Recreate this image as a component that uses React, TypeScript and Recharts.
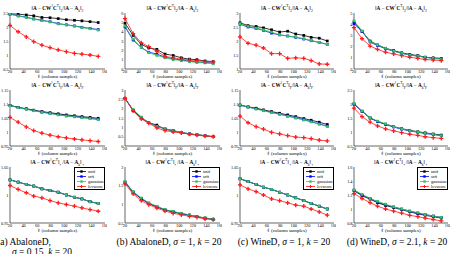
import React from 'react';
import { LineChart, Line, XAxis, YAxis, Legend } from 'recharts';

// ℓ values (number of sampled columns)
const samples = [20, 32, 44, 55, 67, 79, 91, 103, 115, 126, 138, 150];
const xTicks = [20, 40, 60, 80, 100, 120, 140, 160];

const methods = ['unif', 'srft', 'gaussian', 'levscore'] as const;
const methodColors = ['#000000', '#0000ff', '#33c65c', '#ff1a1a'];

// AbaloneD, sigma = 0.15 — spectral / Frobenius / trace norm ratios
const abaloneNarrowSpectral = {
  unif: [2.47, 2.46, 2.43, 2.4, 2.34, 2.33, 2.3, 2.26, 2.24, 2.22, 2.19, 2.16],
  srft: [2.46, 2.4, 2.35, 2.29, 2.24, 2.19, 2.12, 2.08, 2.04, 1.99, 1.95, 1.91],
  gaussian: [2.46, 2.39, 2.34, 2.28, 2.23, 2.18, 2.11, 2.07, 2.03, 1.98, 1.94, 1.89],
  levscore: [2.06, 1.83, 1.65, 1.48, 1.35, 1.26, 1.18, 1.12, 1.06, 1.03, 1.0, 0.95],
};
const abaloneNarrowFrobenius = {
  unif: [1.095, 1.088, 1.083, 1.078, 1.073, 1.069, 1.065, 1.061, 1.058, 1.055, 1.052, 1.049],
  srft: [1.095, 1.088, 1.082, 1.077, 1.071, 1.067, 1.062, 1.058, 1.055, 1.052, 1.049, 1.045],
  gaussian: [1.094, 1.087, 1.081, 1.076, 1.07, 1.066, 1.061, 1.057, 1.054, 1.051, 1.048, 1.044],
  levscore: [1.052, 1.035, 1.018, 1.005, 0.996, 0.989, 0.983, 0.979, 0.975, 0.972, 0.969, 0.966],
};
const abaloneNarrowTrace = {
  unif: [1.027, 1.023, 1.019, 1.016, 1.011, 1.008, 1.005, 1.0, 0.996, 0.993, 0.988, 0.985],
  srft: [1.027, 1.023, 1.019, 1.016, 1.011, 1.008, 1.005, 1.0, 0.996, 0.993, 0.988, 0.985],
  gaussian: [1.027, 1.023, 1.019, 1.016, 1.011, 1.008, 1.005, 1.0, 0.996, 0.993, 0.988, 0.985],
  levscore: [1.017, 1.01, 1.004, 0.998, 0.995, 0.99, 0.986, 0.983, 0.98, 0.977, 0.974, 0.971],
};

// AbaloneD, sigma = 1
const abaloneWideSpectral = {
  unif: [4.9, 3.6, 2.65, 2.25, 2.1, 1.6, 1.45, 1.2, 1.05, 1.0, 0.85, 0.8],
  srft: [4.5, 3.1, 2.3, 1.8, 1.6, 1.25, 1.1, 0.95, 0.85, 0.75, 0.7, 0.62],
  gaussian: [4.6, 3.2, 2.3, 1.75, 1.45, 1.2, 1.0, 0.9, 0.8, 0.7, 0.65, 0.55],
  levscore: [5.4, 3.8, 2.8, 2.4, 1.9, 1.35, 1.2, 1.05, 0.95, 0.9, 0.8, 0.75],
};
const abaloneWideFrobenius = {
  unif: [2.55, 1.9, 1.5, 1.25, 1.12, 0.9, 0.82, 0.72, 0.65, 0.6, 0.55, 0.5],
  srft: [2.55, 1.92, 1.52, 1.25, 1.05, 0.92, 0.82, 0.72, 0.65, 0.6, 0.55, 0.5],
  gaussian: [2.55, 1.95, 1.55, 1.25, 1.05, 0.92, 0.82, 0.72, 0.65, 0.6, 0.55, 0.5],
  levscore: [2.55, 1.88, 1.45, 1.22, 0.97, 0.82, 0.75, 0.7, 0.63, 0.58, 0.53, 0.5],
};
const abaloneWideTrace = {
  unif: [1.59, 1.32, 1.15, 1.02, 0.93, 0.85, 0.8, 0.75, 0.71, 0.67, 0.63, 0.6],
  srft: [1.6, 1.33, 1.16, 1.03, 0.94, 0.85, 0.8, 0.75, 0.71, 0.67, 0.63, 0.6],
  gaussian: [1.61, 1.34, 1.17, 1.04, 0.95, 0.86, 0.81, 0.76, 0.72, 0.67, 0.64, 0.6],
  levscore: [1.55, 1.28, 1.1, 0.99, 0.9, 0.82, 0.76, 0.72, 0.68, 0.65, 0.61, 0.59],
};

// WineD, sigma = 1
const wineNarrowSpectral = {
  unif: [2.65, 2.55, 2.52, 2.47, 2.4, 2.32, 2.35, 2.25, 2.2, 2.13, 2.1, 2.0],
  srft: [2.6, 2.5, 2.45, 2.38, 2.28, 2.22, 2.18, 2.13, 2.07, 2.01, 1.95, 1.88],
  gaussian: [2.62, 2.52, 2.46, 2.4, 2.32, 2.22, 2.18, 2.14, 2.08, 2.02, 1.95, 1.88],
  levscore: [2.15, 1.92, 1.85, 1.75, 1.55, 1.55, 1.38, 1.4, 1.38, 1.3, 1.18, 1.17],
};
const wineNarrowFrobenius = {
  unif: [1.096, 1.09, 1.085, 1.079, 1.073, 1.067, 1.061, 1.055, 1.048, 1.042, 1.035, 1.027],
  srft: [1.096, 1.089, 1.083, 1.077, 1.07, 1.064, 1.057, 1.051, 1.044, 1.037, 1.029, 1.021],
  gaussian: [1.096, 1.089, 1.082, 1.076, 1.069, 1.063, 1.056, 1.05, 1.043, 1.036, 1.028, 1.019],
  levscore: [1.057, 1.033, 1.019, 1.01, 0.999, 0.993, 0.987, 0.982, 0.98, 0.976, 0.971, 0.968],
};
const wineNarrowTrace = {
  unif: [1.029, 1.024, 1.019, 1.014, 1.01, 1.005, 1.0, 0.995, 0.99, 0.985, 0.98, 0.975],
  srft: [1.029, 1.024, 1.019, 1.014, 1.01, 1.005, 1.0, 0.995, 0.99, 0.985, 0.98, 0.975],
  gaussian: [1.029, 1.024, 1.019, 1.014, 1.01, 1.005, 1.0, 0.995, 0.99, 0.985, 0.98, 0.975],
  levscore: [1.018, 1.011, 1.006, 1.0, 0.993, 0.99, 0.986, 0.982, 0.98, 0.975, 0.97, 0.964],
};

// WineD, sigma = 2.1
const wineWideSpectral = {
  unif: [4.2, 3.35, 2.5, 2.15, 1.85, 1.65, 1.45, 1.3, 1.2, 1.05, 1.0, 0.95],
  srft: [4.05, 3.35, 2.4, 2.1, 1.8, 1.6, 1.4, 1.25, 1.15, 1.05, 0.95, 0.9],
  gaussian: [4.3, 3.4, 2.45, 2.15, 1.85, 1.6, 1.4, 1.25, 1.15, 1.05, 0.95, 0.9],
  levscore: [3.7, 2.7, 2.05, 1.75, 1.5, 1.35, 1.2, 1.05, 0.95, 0.85, 0.8, 0.75],
};
const wineWideFrobenius = {
  unif: [2.0, 1.74, 1.5, 1.38, 1.28, 1.19, 1.12, 1.06, 1.01, 0.97, 0.93, 0.89],
  srft: [2.0, 1.74, 1.5, 1.37, 1.27, 1.18, 1.1, 1.04, 0.99, 0.95, 0.91, 0.87],
  gaussian: [2.02, 1.75, 1.51, 1.39, 1.29, 1.19, 1.11, 1.05, 1.0, 0.95, 0.92, 0.87],
  levscore: [1.85, 1.55, 1.35, 1.22, 1.11, 1.04, 0.98, 0.92, 0.88, 0.83, 0.8, 0.77],
};
const wineWideTrace = {
  unif: [1.26, 1.19, 1.14, 1.09, 1.05, 1.02, 0.99, 0.96, 0.93, 0.91, 0.89, 0.87],
  srft: [1.27, 1.2, 1.15, 1.1, 1.06, 1.03, 1.0, 0.97, 0.94, 0.92, 0.9, 0.88],
  gaussian: [1.27, 1.21, 1.15, 1.11, 1.07, 1.03, 1.0, 0.97, 0.95, 0.92, 0.9, 0.88],
  levscore: [1.22, 1.15, 1.09, 1.04, 1.0, 0.97, 0.94, 0.91, 0.89, 0.87, 0.85, 0.83],
};

// y-axis ticks per panel
const ticksAbNarrowSpec = [0.5, 1, 1.5, 2, 2.5];
const ticksAbWideSpec = [0, 1, 2, 3, 4, 5, 6];
const ticksWnNarrowSpec = [1, 1.5, 2, 2.5, 3];
const ticksWnWideSpec = [0, 1, 2, 3, 4, 5];
const ticksNarrowFro = [0.95, 1, 1.05, 1.1, 1.15];
const ticksAbWideFro = [0, 0.5, 1, 1.5, 2, 2.5, 3];
const ticksWnWideFro = [0.5, 1, 1.5, 2, 2.5];
const ticksNarrowTrace = [0.95, 1, 1.05];
const ticksAbWideTrace = [0.5, 1, 1.5, 2];
const ticksWnWideTrace = [0.8, 1, 1.2, 1.4, 1.6];

const captions = ['AbaloneD', 'AbaloneD', 'WineD', 'WineD'];

type Series = { unif: number[]; srft: number[]; gaussian: number[]; levscore: number[] };

const FONT = '"Liberation Serif", "DejaVu Serif", serif';
const colLeft = [10, 125, 240, 354];
const colWidth = [95, 95, 94, 94];
const rowTop = [13, 90, 167];
const PLOT_H = 56;
const YW = 14;
const MT = 2;
const MR = 2;
const XH = 10;

const makeDot = (method: string, color: string) => (props: any) => {
  const { cx, cy, index } = props;
  if (cx == null || cy == null) return <g key={`d${index}`} />;
  if (method === 'levscore') {
    return (
      <path
        key={`d${index}`}
        d={`M${cx - 2.1},${cy}H${cx + 2.1}M${cx},${cy - 2.1}V${cy + 2.1}`}
        stroke={color}
        strokeWidth={1.3}
      />
    );
  }
  return <rect key={`d${index}`} x={cx - 1.35} y={cy - 1.35} width={2.7} height={2.7} fill={color} />;
};

function NormTitle({ norm }: { norm: string }) {
  const sub = <sub style={{ fontSize: '0.7em' }}>{norm}</sub>;
  return (
    <span>
      ‖<b>A</b> − <b>CW</b>
      <sup style={{ fontSize: '0.7em' }}>†</sup>
      <b>C</b>
      <sup style={{ fontSize: '0.7em' }}>T</sup>‖{sub}/‖<b>A</b> − <b>A</b>
      <sub style={{ fontSize: '0.7em' }}>k</sub>‖{sub}
    </span>
  );
}

function LegendBox(props: any) {
  const payload: any[] = props.payload || [];
  // keep the plotting order: unif, srft, gaussian, levscore
  const ordered = methods
    .map((m) => payload.find((p) => p.value === m))
    .filter(Boolean) as any[];
  return (
    <div
      style={{
        border: '0.6px solid #000',
        background: '#fff',
        width: 31,
        padding: '0.5px 0',
        fontSize: 4.5,
        lineHeight: '5px',
        fontFamily: FONT,
        boxSizing: 'border-box',
      }}
    >
      {ordered.map((p: any) => (
        <div key={p.value} style={{ display: 'flex', alignItems: 'center', height: 5 }}>
          <svg width={13} height={5} style={{ display: 'block' }}>
            <line x1={2} x2={11} y1={2.5} y2={2.5} stroke={p.color} strokeWidth={0.8} />
            {p.value === 'levscore' ? (
              <path d="M4.9,2.5H8.1M6.5,0.9V4.1" stroke={p.color} strokeWidth={1.1} />
            ) : (
              <rect x={5.3} y={1.3} width={2.4} height={2.4} fill={p.color} />
            )}
          </svg>
          <span>{p.value}</span>
        </div>
      ))}
    </div>
  );
}

const norms = ['2', 'F', '⋆'];

function Panel({
  col,
  row,
  series,
  ticks,
}: {
  col: number;
  row: number;
  series: Series;
  ticks: number[];
}) {
  const plotLeft = colLeft[col];
  const plotTop = rowTop[row];
  const plotW = colWidth[col];
  const domain = [ticks[0], ticks[ticks.length - 1]];
  const data = samples.map((l, i) => ({
    l,
    unif: series.unif[i],
    srft: series.srft[i],
    gaussian: series.gaussian[i],
    levscore: series.levscore[i],
  }));
  const tickStyle = { fontSize: 4.3, fill: '#000', fontFamily: FONT };
  return (
    <>
      <div
        style={{
          position: 'absolute',
          left: plotLeft + plotW / 2,
          top: plotTop - 10,
          transform: 'translateX(-50%)',
          whiteSpace: 'nowrap',
          fontSize: 5.2,
          lineHeight: '6px',
          fontFamily: FONT,
        }}
      >
        <NormTitle norm={norms[row]} />
      </div>
      <div style={{ position: 'absolute', left: plotLeft - YW, top: plotTop - MT }}>
        <LineChart
          width={YW + plotW + MR}
          height={MT + PLOT_H + XH}
          data={data}
          margin={{ top: MT, right: MR, left: 0, bottom: 0 }}
        >
          <XAxis
            dataKey="l"
            type="number"
            domain={[20, 160]}
            ticks={xTicks}
            height={XH}
            tick={tickStyle}
            tickLine={false}
            tickSize={1.2}
            tickMargin={0}
            stroke="#000"
            strokeWidth={0.6}
            interval={0}
            label={{
              value: 'ℓ (column samples)',
              position: 'insideBottom',
              offset: 1,
              fontSize: 5,
              fill: '#000',
              fontFamily: FONT,
            }}
          />
          <XAxis
            xAxisId="top"
            orientation="top"
            type="number"
            domain={[20, 160]}
            ticks={xTicks}
            height={0}
            tick={false}
            tickLine={false}
            stroke="#000"
            strokeWidth={0.6}
          />
          <YAxis
            type="number"
            domain={domain}
            ticks={ticks}
            width={YW}
            tick={tickStyle}
            tickLine={false}
            tickSize={1}
            tickMargin={0.5}
            interval={0}
            stroke="#000"
            strokeWidth={0.6}
            allowDataOverflow
          />
          <YAxis
            yAxisId="right"
            orientation="right"
            type="number"
            domain={domain}
            ticks={ticks}
            width={0}
            tick={false}
            tickLine={false}
            stroke="#000"
            strokeWidth={0.6}
          />
          {methods.map((m, i) => (
            <Line
              key={m}
              dataKey={m}
              name={m}
              stroke={methodColors[i]}
              strokeWidth={0.8}
              dot={makeDot(m, methodColors[i])}
              activeDot={false}
              isAnimationActive={false}
            />
          ))}
          {row === 2 && (
            <Legend
              layout="vertical"
              align="center"
              verticalAlign="middle"
              content={<LegendBox />}
              wrapperStyle={{ left: YW + plotW - 31, top: MT, width: 31, height: 'auto' }}
            />
          )}
        </LineChart>
      </div>
    </>
  );
}

const captionStyle: React.CSSProperties = {
  position: 'absolute',
  whiteSpace: 'nowrap',
  fontSize: 9.5,
  lineHeight: '10px',
  fontFamily: FONT,
  transform: 'translateX(-50%)',
};

export default function App() {
  return (
    <div
      style={{
        position: 'absolute',
        left: 0,
        top: 0,
        width: 456,
        height: 254,
        overflow: 'hidden',
        background: '#fff',
        color: '#000',
      }}
    >
      <Panel col={0} row={0} series={abaloneNarrowSpectral} ticks={ticksAbNarrowSpec} />
      <Panel col={1} row={0} series={abaloneWideSpectral} ticks={ticksAbWideSpec} />
      <Panel col={2} row={0} series={wineNarrowSpectral} ticks={ticksWnNarrowSpec} />
      <Panel col={3} row={0} series={wineWideSpectral} ticks={ticksWnWideSpec} />
      <Panel col={0} row={1} series={abaloneNarrowFrobenius} ticks={ticksNarrowFro} />
      <Panel col={1} row={1} series={abaloneWideFrobenius} ticks={ticksAbWideFro} />
      <Panel col={2} row={1} series={wineNarrowFrobenius} ticks={ticksNarrowFro} />
      <Panel col={3} row={1} series={wineWideFrobenius} ticks={ticksWnWideFro} />
      <Panel col={0} row={2} series={abaloneNarrowTrace} ticks={ticksNarrowTrace} />
      <Panel col={1} row={2} series={abaloneWideTrace} ticks={ticksAbWideTrace} />
      <Panel col={2} row={2} series={wineNarrowTrace} ticks={ticksNarrowTrace} />
      <Panel col={3} row={2} series={wineWideTrace} ticks={ticksWnWideTrace} />

      <div style={{ ...captionStyle, left: 24, top: 237 }}>(a) {captions[0]},</div>
      <div style={{ ...captionStyle, left: 42, top: 247 }}>
        <i>σ</i> = 0.15, <i>k</i> = 20
      </div>
      <div style={{ ...captionStyle, left: 169, top: 237 }}>
        (b) {captions[1]}, <i>σ</i> = 1, <i>k</i> = 20
      </div>
      <div style={{ ...captionStyle, left: 284, top: 237 }}>
        (c) {captions[2]}, <i>σ</i> = 1, <i>k</i> = 20
      </div>
      <div style={{ ...captionStyle, left: 397, top: 237 }}>
        (d) {captions[3]}, <i>σ</i> = 2.1, <i>k</i> = 20
      </div>
    </div>
  );
}
